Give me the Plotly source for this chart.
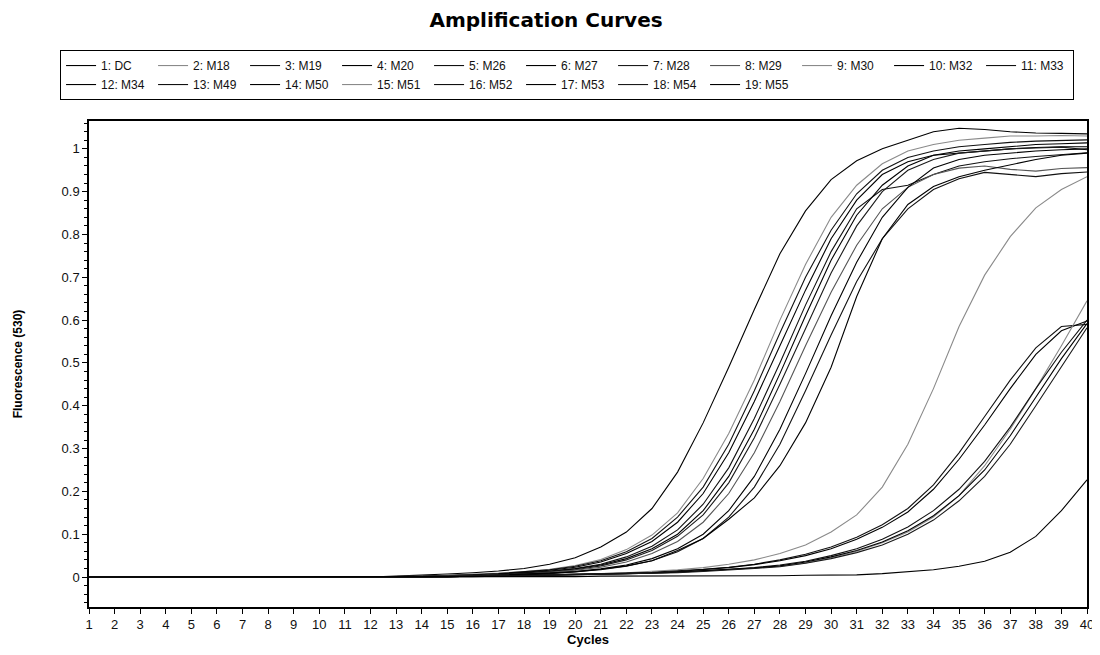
import plotly.graph_objects as go

cycles = list(range(1, 41))

series_names = ["1: DC", "2: M18", "3: M19", "4: M20", "5: M26", "6: M27", "7: M28",
                "8: M29", "9: M30", "10: M32", "11: M33", "12: M34", "13: M49",
                "14: M50", "15: M51", "16: M52", "17: M53", "18: M54", "19: M55"]

s01 = [0,0,0,0,0,0,0,0,0,0,0,0, 0.002,0.004,0.007,0.010,0.014,0.020,0.030,0.045,0.070,0.105,0.160,0.245,0.360,0.490,0.625,0.755,0.855,0.928,0.972,1.000,1.020,1.040,1.048,1.045,1.040,1.037,1.036,1.035]
s02 = [0,0,0,0,0,0,0,0,0,0,0,0, 0.001,0.002,0.004,0.006,0.009,0.013,0.018,0.027,0.041,0.064,0.098,0.150,0.230,0.335,0.460,0.600,0.730,0.840,0.915,0.965,0.995,1.010,1.020,1.025,1.030,1.030,1.031,1.030]
s03 = [0,0,0,0,0,0,0,0,0,0,0,0, 0.001,0.002,0.003,0.005,0.008,0.012,0.017,0.025,0.038,0.059,0.090,0.140,0.210,0.310,0.435,0.570,0.700,0.810,0.895,0.950,0.980,0.995,1.005,1.010,1.015,1.018,1.020,1.021]
s04 = [0,0,0,0,0,0,0,0,0,0,0,0, 0.001,0.001,0.003,0.005,0.007,0.011,0.016,0.023,0.035,0.055,0.083,0.128,0.195,0.290,0.410,0.540,0.670,0.790,0.880,0.940,0.970,0.985,0.990,0.995,1.000,1.003,1.005,1.005]
s05 = [0,0,0,0,0,0,0,0,0,0,0,0, 0.000,0.001,0.002,0.004,0.006,0.010,0.014,0.020,0.030,0.047,0.072,0.110,0.170,0.255,0.370,0.500,0.635,0.760,0.860,0.905,0.915,0.940,0.960,0.970,0.977,0.982,0.986,0.991]
s06 = [0,0,0,0,0,0,0,0,0,0,0,0, 0.000,0.001,0.002,0.003,0.006,0.009,0.013,0.019,0.028,0.043,0.066,0.100,0.155,0.235,0.345,0.475,0.610,0.740,0.845,0.915,0.960,0.985,0.995,1.000,1.005,1.010,1.012,1.014]
s07 = [0,0,0,0,0,0,0,0,0,0,0,0, 0.000,0.001,0.002,0.003,0.005,0.008,0.012,0.017,0.026,0.040,0.062,0.095,0.145,0.220,0.325,0.450,0.580,0.710,0.820,0.900,0.950,0.975,0.990,0.995,1.000,1.002,1.004,0.998]
s08 = [0,0,0,0,0,0,0,0,0,0,0,0, 0.000,0.001,0.001,0.003,0.005,0.007,0.011,0.016,0.023,0.035,0.055,0.083,0.128,0.195,0.290,0.410,0.540,0.665,0.775,0.860,0.910,0.940,0.955,0.960,0.952,0.948,0.954,0.956]
s09 = [0,0,0,0,0,0,0,0,0,0,0,0, 0.001,0.001,0.002,0.002,0.003,0.004,0.005,0.006,0.008,0.010,0.013,0.017,0.022,0.030,0.040,0.055,0.075,0.105,0.145,0.210,0.310,0.440,0.585,0.705,0.795,0.862,0.905,0.935]
s10 = [0,0,0,0,0,0,0,0,0,0,0,0, 0.000,0.000,0.001,0.002,0.004,0.006,0.009,0.013,0.019,0.028,0.043,0.066,0.100,0.155,0.235,0.345,0.475,0.610,0.735,0.840,0.910,0.955,0.975,0.985,0.990,0.995,0.998,1.000]
s11 = [0,0,0,0,0,0,0,0,0,0,0,0, 0.000,0.000,0.001,0.002,0.003,0.005,0.008,0.012,0.017,0.025,0.038,0.059,0.090,0.140,0.210,0.310,0.435,0.565,0.690,0.790,0.860,0.905,0.930,0.945,0.940,0.935,0.942,0.946]
s12 = [0,0,0,0,0,0,0,0,0,0,0,0, 0.000,0.000,0.001,0.002,0.004,0.006,0.009,0.012,0.018,0.026,0.038,0.062,0.090,0.135,0.185,0.260,0.360,0.490,0.655,0.790,0.870,0.912,0.935,0.950,0.962,0.975,0.985,0.990]
s13 = [0,0,0,0,0,0,0,0,0,0,0,0, 0.001,0.001,0.002,0.002,0.003,0.004,0.005,0.006,0.007,0.009,0.011,0.014,0.018,0.023,0.030,0.040,0.053,0.070,0.093,0.122,0.160,0.215,0.290,0.375,0.460,0.535,0.585,0.590]
s14 = [0,0,0,0,0,0,0,0,0,0,0,0, 0.001,0.001,0.001,0.002,0.003,0.004,0.005,0.006,0.007,0.008,0.010,0.013,0.017,0.022,0.029,0.038,0.050,0.066,0.088,0.116,0.152,0.205,0.275,0.355,0.440,0.520,0.575,0.598]
s15 = [0,0,0,0,0,0,0,0,0,0,0,0, 0.001,0.001,0.001,0.002,0.002,0.003,0.004,0.005,0.006,0.007,0.009,0.011,0.014,0.017,0.021,0.025,0.033,0.045,0.060,0.080,0.105,0.140,0.190,0.260,0.345,0.440,0.540,0.645]
s16 = [0,0,0,0,0,0,0,0,0,0,0,0, 0.001,0.001,0.001,0.002,0.002,0.003,0.004,0.005,0.006,0.008,0.010,0.012,0.015,0.018,0.022,0.028,0.037,0.050,0.066,0.088,0.117,0.155,0.205,0.270,0.350,0.440,0.525,0.600]
s17 = [0,0,0,0,0,0,0,0,0,0,0,0, 0.001,0.001,0.001,0.002,0.002,0.003,0.004,0.005,0.006,0.007,0.009,0.011,0.014,0.017,0.021,0.026,0.035,0.047,0.062,0.082,0.108,0.143,0.190,0.250,0.330,0.420,0.510,0.592]
s18 = [0,0,0,0,0,0,0,0,0,0,0,0, 0.001,0.001,0.001,0.001,0.002,0.003,0.004,0.005,0.006,0.007,0.008,0.010,0.013,0.016,0.020,0.024,0.032,0.043,0.057,0.075,0.100,0.133,0.178,0.235,0.310,0.400,0.490,0.582]
s19 = [0,0,0,0,0,0,0,0,0,0,0,0, 0.000,0.000,0.000,0.001,0.001,0.001,0.001,0.001,0.002,0.002,0.002,0.002,0.002,0.003,0.003,0.003,0.004,0.004,0.005,0.008,0.012,0.017,0.025,0.037,0.058,0.095,0.155,0.227]

series_values = [s01, s02, s03, s04, s05, s06, s07, s08, s09, s10,
                 s11, s12, s13, s14, s15, s16, s17, s18, s19]

line_colors = ["#000000", "#8a8a8a", "#111111", "#000000", "#111111", "#000000", "#1a1a1a",
               "#555555", "#8a8a8a", "#000000", "#111111", "#000000", "#111111",
               "#000000", "#8a8a8a", "#111111", "#000000", "#1a1a1a", "#000000"]

fig = go.Figure()
for name, vals, col in zip(series_names, series_values, line_colors):
    fig.add_trace(go.Scatter(x=cycles, y=vals, mode="lines", name=name,
                             line=dict(color=col, width=1.1)))

font_family = "Liberation Sans, Arial, sans-serif"

# The page body adds an 8px margin, so the figure is sized 1092x647.
fig.update_layout(
    width=1092, height=647,
    paper_bgcolor="white", plot_bgcolor="white",
    margin=dict(l=81, r=13, t=113, b=48, autoexpand=False),
    font=dict(family=font_family, size=12, color="#111111"),
    title=dict(text="<b>Amplification Curves</b>", x=0.4927, xref="container",
               y=1 - 12 / 647, yref="container", xanchor="center", yanchor="middle",
               font=dict(family="DejaVu Sans, sans-serif", size=20, color="#000000")),
    showlegend=True,
    legend=dict(orientation="h", x=-0.029, xanchor="left", y=1.146, yanchor="top",
                bordercolor="#000000", borderwidth=1, bgcolor="white",
                font=dict(family=font_family, size=12, color="#111111"),
                entrywidth=47, itemwidth=30, tracegroupgap=0),
    xaxis=dict(range=[1, 40], tickmode="array", tickvals=cycles,
               ticktext=[str(c) for c in cycles],
               ticks="outside", ticklen=5, tickcolor="#000000",
               showline=True, linecolor="#000000", linewidth=1.5, mirror=True,
               showgrid=False, zeroline=False,
               tickfont=dict(size=13, color="#111111"),
               title=dict(text="<b>Cycles</b>", standoff=4,
                          font=dict(size=13, color="#000000"))),
    yaxis=dict(range=[-0.07, 1.065], tick0=0, dtick=0.1,
               ticks="outside", ticklen=5, tickcolor="#000000",
               minor=dict(dtick=0.02, tick0=0, ticks="outside", ticklen=3,
                          tickcolor="#000000", showgrid=False),
               showline=True, linecolor="#000000", linewidth=1.5, mirror=True,
               showgrid=False, zeroline=False,
               tickfont=dict(size=13, color="#111111"),
               title=dict(text="<b>Fluorescence (530)</b>", standoff=36,
                          font=dict(size=12, color="#000000"))),
)

fig.write_html("out.html")
